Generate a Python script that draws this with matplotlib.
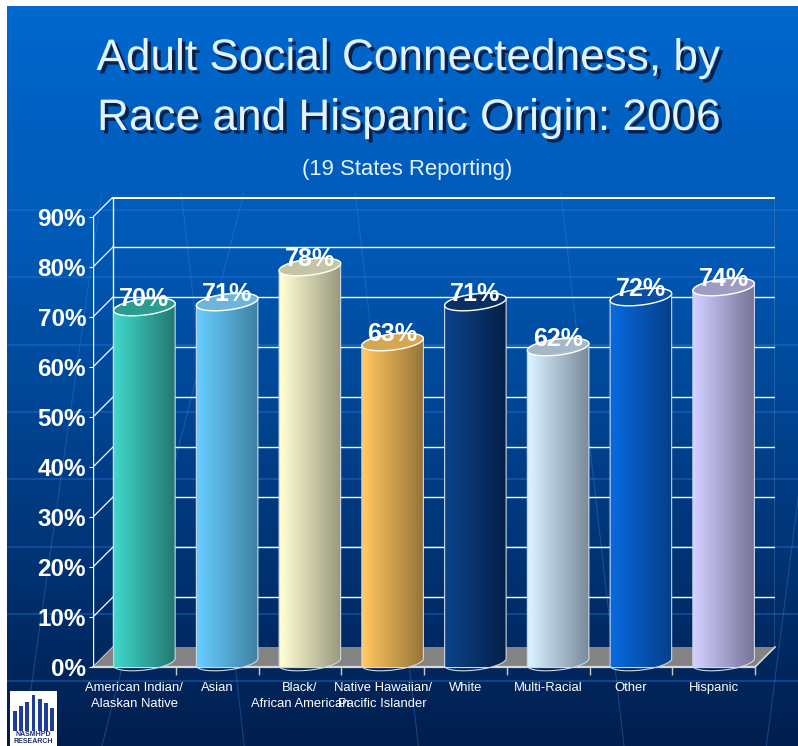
import numpy as np
import matplotlib.pyplot as plt
import matplotlib.patheffects as pe
from matplotlib.patches import Polygon
from matplotlib.colors import LinearSegmentedColormap

categories = [
    "American Indian/\nAlaskan Native",
    "Asian",
    "Black/\nAfrican American",
    "Native Hawaiian/\nPacific Islander",
    "White",
    "Multi-Racial",
    "Other",
    "Hispanic",
]
values = [70, 71, 78, 63, 71, 62, 72, 74]
value_labels = ["70%", "71%", "78%", "63%", "71%", "62%", "72%", "74%"]
y_ticks = [0, 10, 20, 30, 40, 50, 60, 70, 80, 90]
y_tick_labels = ["0%", "10%", "20%", "30%", "40%", "50%", "60%", "70%", "80%", "90%"]

bar_light = ["#40D4C8", "#66CCFF", "#FFFDD2", "#FFC860", "#0B4288", "#D8F0FF", "#0868DD", "#D2CEFF"]
bar_dark = ["#1E6E68", "#3A7898", "#8C8C74", "#8A6A34", "#041C42", "#6E7E8E", "#033A7E", "#6C6A8C"]
cap_colors = ["#2A9C92", "#6CB6DC", "#C4C4A6", "#D6A650", "#0A2F62", "#A6B8C8", "#0A4FA2", "#9E9CC2"]

SANS = ["Liberation Sans", "DejaVu Sans"]

W, H = 798, 746
fig = plt.figure(figsize=(W / 100, H / 100), dpi=100, facecolor="white")

# slide background
bg = fig.add_axes([7 / W, 0, (W - 7) / W, (H - 6) / H])
bg.set_axis_off()
grad = LinearSegmentedColormap.from_list("bg", ["#001E4E", "#003A80", "#0058B4", "#0068CE"])
bg.imshow(np.linspace(0, 1, 256)[:, None], cmap=grad, origin="lower",
          extent=[0, 1, 0, 1], aspect="auto")
for yy in np.arange(210, 690, 67.3):
    bg.axhline(1 - (yy - 6) / (H - 6), color="#2A78DA", lw=1.2, alpha=0.45)
for x0, x1 in [(0.02, 0.12), (0.30, 0.22), (0.52, 0.44), (0.78, 0.70), (0.96, 1.05), (0.12, 0.30)]:
    bg.plot([x0, x1], [0.0, 0.75], color="#3C86E0", lw=0.8, alpha=0.35)
bg.set_xlim(0, 1)
bg.set_ylim(0, 1)

# main axes (front plane of the 3D box)
ax = fig.add_axes([93 / W, 79 / H, 682 / W, 470 / H])
ax.patch.set_visible(False)
n = len(categories)
DX = 20 / 82.75
DY = 4.0
SX = 682 / (n + DX)
SY = 470 / 94

grid_c = "white"
for y in y_ticks:
    ax.plot([0, DX], [y, y + DY], color=grid_c, lw=0.9, zorder=1)
    if y > 0:
        ax.plot([DX, n + DX], [y + DY, y + DY], color=grid_c,
                lw=2.2 if y == 90 else 1.0, zorder=1)
ax.plot([0, 0], [0, 90], color=grid_c, lw=1.0, zorder=1)
ax.plot([DX, DX], [DY, 90 + DY], color=grid_c, lw=1.0, zorder=1)
ax.plot([n + DX, n + DX], [DY, 90 + DY], color="#B8C4D8", lw=1.0, zorder=1)

# floor
ax.add_patch(Polygon([(0, 0), (n, 0), (n + DX, DY), (DX, DY)], closed=True,
                     facecolor="#838383", edgecolor="none", zorder=2, clip_on=False))
ax.plot([0, n], [0, 0], color="#D8D8D8", lw=1.6, zorder=2, clip_on=False)
ax.plot([n, n + DX], [0, DY], color="#D8D8D8", lw=1.2, zorder=2, clip_on=False)

# cylinders
a_px, b_px, phi = 31.0, 8.0, np.deg2rad(7)


def ellipse(cx, cy, t):
    ex = a_px * np.cos(t) * np.cos(phi) - b_px * np.sin(t) * np.sin(phi)
    ey = a_px * np.cos(t) * np.sin(phi) + b_px * np.sin(t) * np.cos(phi)
    return np.column_stack([cx + ex / SX, cy + ey / SY])


for i, v in enumerate(values):
    cx = i + 0.5 + DX / 2
    base, top = 1.0, v + 2.0
    body = np.vstack([ellipse(cx, base, np.linspace(np.pi, 2 * np.pi, 60)),
                      ellipse(cx, top, np.linspace(0, np.pi, 60))])
    clip = Polygon(body, closed=True, facecolor="none", edgecolor="none",
                   transform=ax.transData)
    cmap = LinearSegmentedColormap.from_list(
        f"c{i}", [(0, bar_light[i]), (0.12, bar_light[i]), (1, bar_dark[i])])
    im = ax.imshow(np.linspace(0, 1, 200)[None, :], cmap=cmap, aspect="auto",
                   extent=[cx - 0.45, cx + 0.45, base - 3, top + 3], zorder=3)
    im.set_clip_path(clip)
    im.set_clip_on(True)
    ax.add_patch(Polygon(body, closed=True, facecolor="none", edgecolor="#D0D8E4",
                         lw=0.8, zorder=4, clip_on=False))
    cap = ellipse(cx, top, np.linspace(0, 2 * np.pi, 120))
    ax.add_patch(Polygon(cap, closed=True, facecolor=cap_colors[i], edgecolor="white",
                         lw=1.0, zorder=4, clip_on=False))
    ax.text(cx, v + 3.6, value_labels[i], ha="center", va="center", color="white",
            fontsize=18, fontweight="bold", family=SANS, zorder=6, clip_on=False)

ax.set_xlim(0, n + DX)
ax.set_ylim(0, 94)
for s in ax.spines.values():
    s.set_visible(False)

ax.set_yticks(y_ticks, y_tick_labels)
ax.tick_params(axis="y", length=3, color="white", labelcolor="white", pad=2)
for lab in ax.get_yticklabels():
    lab.set_fontsize(17.5)
    lab.set_fontweight("bold")
    lab.set_family(SANS)

ax.set_xticks([i + 0.5 for i in range(n)], categories)
ax.set_xticks(range(1, n + 1), minor=True)
ax.tick_params(axis="x", which="major", length=0, pad=11, labelcolor="white")
ax.tick_params(axis="x", which="minor", length=6, width=1, color="#C8C8C8")
for lab in ax.get_xticklabels():
    lab.set_fontsize(9.4)
    lab.set_family(SANS)
    lab.set_linespacing(1.45)

# titles
shadow = [pe.withSimplePatchShadow(offset=(2.5, -2.5), shadow_rgbFace="#0A1A3C", alpha=0.9)]
fig.text(408 / W, 1 - 70 / H, "Adult Social Connectedness, by", ha="center", va="baseline",
         fontsize=31.8, color="#E4F2FF", family=SANS, path_effects=shadow)
fig.text(409 / W, 1 - 130 / H, "Race and Hispanic Origin: 2006", ha="center", va="baseline",
         fontsize=31.8, color="#E4F2FF", family=SANS, path_effects=shadow)
fig.text(407 / W, 1 - 175 / H, "(19 States Reporting)", ha="center", va="baseline",
         fontsize=15.9, color="#E4F2FF", family=SANS)

# logo
logo = fig.add_axes([10 / W, 0, 47 / W, 55 / H])
logo.set_facecolor("white")
logo.set_xticks([])
logo.set_yticks([])
for s in logo.spines.values():
    s.set_visible(False)
logo_heights = [0.45, 0.55, 0.66, 0.80, 0.72, 0.62, 0.52]
logo.bar(range(len(logo_heights)), logo_heights, width=0.6, bottom=0.35, color="#1E3C9C")
logo.set_xlim(-0.8, len(logo_heights) - 0.2)
logo.set_ylim(0, 1.25)
logo.text(0.5, 0.2, "NASMHPD", transform=logo.transAxes, ha="center", va="center",
          fontsize=5, fontweight="bold", color="#1E2E6C", family=SANS)
logo.text(0.5, 0.08, "RESEARCH", transform=logo.transAxes, ha="center", va="center",
          fontsize=5, fontweight="bold", color="#1E2E6C", family=SANS)

fig.savefig("out.png", dpi=100, facecolor="white")
